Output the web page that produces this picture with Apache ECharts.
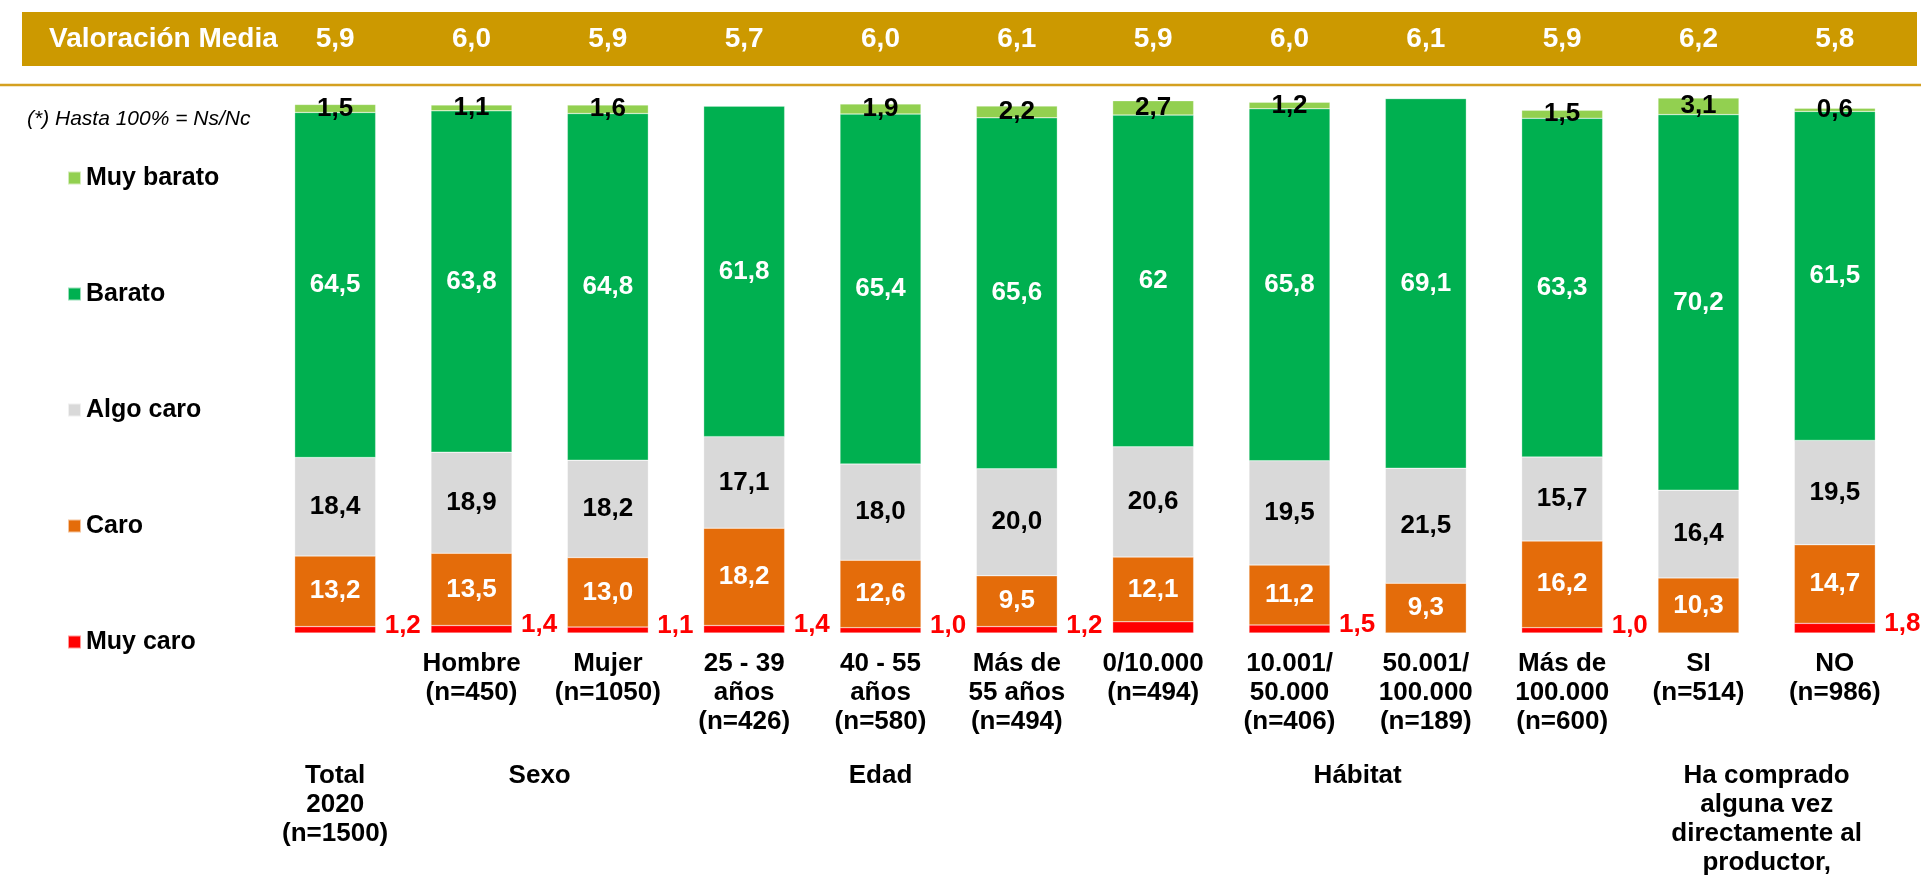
<!DOCTYPE html>
<html>
<head>
<meta charset="utf-8">
<script src="https://cdn.jsdelivr.net/npm/echarts@6/dist/echarts.min.js"></script>
<style>
  html, body { margin: 0; padding: 0; background: #fff; }
  #main { width: 1921px; height: 877px; }
</style>
</head>
<body>
<div id="main"></div>
<script>
// categorias (la primera es el Total, su rótulo va en la fila de grupos)
const categories = ['Total 2020', 'Hombre\n(n=450)', 'Mujer\n(n=1050)', '25 - 39\naños\n(n=426)', '40 - 55\naños\n(n=580)',
  'Más de\n55 años\n(n=494)', '0/10.000\n(n=494)', '10.001/\n50.000\n(n=406)', '50.001/\n100.000\n(n=189)',
  'Más de\n100.000\n(n=600)', 'SI\n(n=514)', 'NO\n(n=986)'];
const valoracion = ['5,9', '6,0', '5,9', '5,7', '6,0', '6,1', '5,9', '6,0', '6,1', '5,9', '6,2', '5,8'];

const muyBarato = [1.5, 1.1, 1.6, 0, 1.9, 2.2, 2.7, 1.2, 0, 1.5, 3.1, 0.6];
const barato = [64.5, 63.8, 64.8, 61.8, 65.4, 65.6, 62, 65.8, 69.1, 63.3, 70.2, 61.5];
const algoCaro = [18.4, 18.9, 18.2, 17.1, 18.0, 20.0, 20.6, 19.5, 21.5, 15.7, 16.4, 19.5];
const caro = [13.2, 13.5, 13.0, 18.2, 12.6, 9.5, 12.1, 11.2, 9.3, 16.2, 10.3, 14.7];
const muyCaro = [1.2, 1.4, 1.1, 1.4, 1.0, 1.2, 2.1, 1.5, 0, 1.0, 0, 1.8];
// rótulos rojos tal como salen en el original (algunos no aparecen)
const muyCaroRotulos = ['1,2', '1,4', '1,1', '1,4', '1,0', '1,2', '', '1,5', '', '1,0', '', '1,8'];

const grupos = [
  { name: 'Total\n2020\n(n=1500)', from: 0, to: 0 },
  { name: 'Sexo', from: 1, to: 2 },
  { name: 'Edad', from: 3, to: 5 },
  { name: 'Hábitat', from: 6, to: 9 },
  { name: 'Ha comprado\nalguna vez\ndirectamente al\nproductor,', from: 10, to: 11 }
];

const FONT = '"Liberation Sans", Arial, sans-serif';

function fmt (v) {
  if (!v) return '';
  // el 62 del original va sin decimal
  if (v === 62) return '62';
  return v.toFixed(1).replace('.', ',');
}

function serie (name, data, color, labelColor) {
  return {
    name: name,
    type: 'bar',
    stack: 'total',
    barWidth: 81,
    data: data,
    itemStyle: { color: color, borderColor: 'rgba(255,255,255,0.6)', borderWidth: 0.5 },
    label: {
      show: true,
      position: 'inside',
      color: labelColor,
      fontFamily: FONT,
      fontWeight: 'bold',
      fontSize: 26,
      formatter: function (p) { return fmt(p.value); }
    }
  };
}

let myChart = echarts.init(document.getElementById('main'));

let option = {
  animation: false,
  grid: {
    left: 267,
    right: 18,
    top: 98,
    bottom: 244
  },
  legend: {
    orient: 'vertical',
    left: 67,
    top: 163,
    padding: 0,
    itemGap: 86,
    itemWidth: 13,
    itemHeight: 13,
    icon: 'rect',
    data: ['Muy barato', 'Barato', 'Algo caro', 'Caro', 'Muy caro'],
    textStyle: {
      fontFamily: FONT,
      fontWeight: 'bold',
      fontSize: 25,
      lineHeight: 30,
      color: '#000'
    }
  },
  xAxis: [{
    type: 'category',
    data: categories,
    axisLine: { show: false },
    axisTick: { show: false },
    axisLabel: {
      interval: 0,
      margin: 16,
      fontFamily: FONT,
      fontWeight: 'bold',
      fontSize: 26,
      lineHeight: 29,
      color: '#000',
      formatter: function (value, index) { return index === 0 ? '' : value; }
    }
  }, {
    // fila de Valoración Media
    type: 'category',
    position: 'top',
    data: categories,
    z: 10,
    axisLine: { show: false },
    axisTick: { show: false },
    axisLabel: {
      interval: 0,
      margin: 59,
      verticalAlign: 'middle',
      fontFamily: FONT,
      fontWeight: 'bold',
      fontSize: 28,
      color: '#fff',
      formatter: function (value, index) { return valoracion[index]; }
    }
  }],
  yAxis: {
    type: 'value',
    min: 0,
    max: 100,
    show: false
  },
  series: [
    Object.assign(serie('Muy caro', muyCaro, '#FF0000', '#FF0000'), {
      label: {
        show: true,
        position: 'right',
        distance: 9,
        offset: [0, -4],
        color: '#FF0000',
        fontFamily: FONT,
        fontWeight: 'bold',
        fontSize: 26,
        formatter: function (p) { return muyCaroRotulos[p.dataIndex]; }
      }
    }),
    serie('Caro', caro, '#E46C0A', '#fff'),
    serie('Algo caro', algoCaro, '#D9D9D9', '#000'),
    serie('Barato', barato, '#00B050', '#fff'),
    serie('Muy barato', muyBarato, '#92D050', '#000')
  ],
  graphic: [{
    type: 'rect',
    z: -10,
    shape: { x: 22, y: 12, width: 1895, height: 54 },
    style: { fill: '#CC9900' }
  }, {
    type: 'line',
    shape: { x1: 0, y1: 85, x2: 1921, y2: 85 },
    style: { stroke: '#D4A020', lineWidth: 2.5 }
  }, {
    type: 'text',
    x: 49,
    y: 39,
    style: {
      text: 'Valoración Media',
      fill: '#fff',
      fontFamily: FONT,
      fontWeight: 'bold',
      fontSize: 28,
      verticalAlign: 'middle'
    }
  }, {
    type: 'text',
    x: 27,
    y: 119,
    style: {
      text: '(*) Hasta 100% = Ns/Nc',
      fill: '#000',
      fontFamily: FONT,
      fontStyle: 'italic',
      fontSize: 21,
      verticalAlign: 'middle'
    }
  }]
};

myChart.setOption(option);

// rótulos de grupo centrados bajo sus categorias
let textos = grupos.map(function (g, i) {
  let x1 = myChart.convertToPixel({ xAxisIndex: 0 }, g.from);
  let x2 = myChart.convertToPixel({ xAxisIndex: 0 }, g.to);
  return {
    type: 'text',
    id: 'grupo' + i,
    x: (x1 + x2) / 2,
    y: 761,
    style: {
      text: g.name,
      fill: '#000',
      fontFamily: FONT,
      fontWeight: 'bold',
      fontSize: 26,
      lineHeight: 29,
      align: 'center',
      verticalAlign: 'top'
    }
  };
});
myChart.setOption({ graphic: textos });
</script>
</body>
</html>
